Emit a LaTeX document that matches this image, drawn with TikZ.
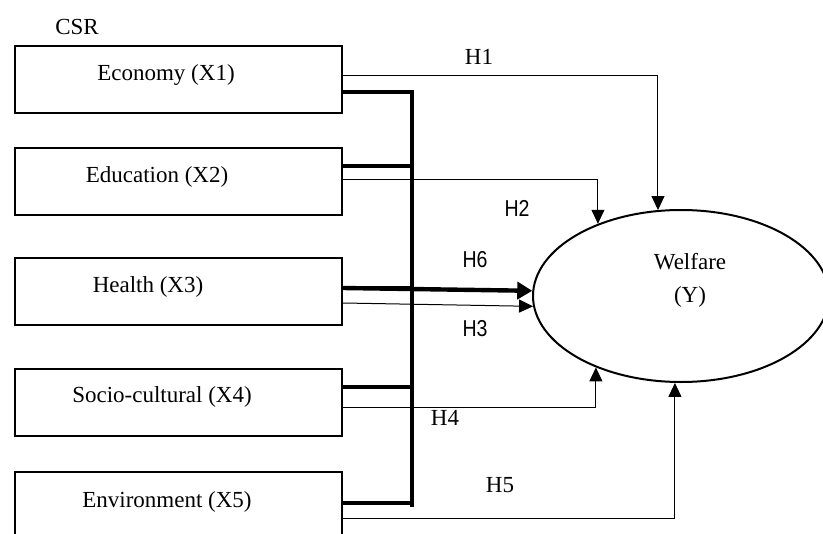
\documentclass[tikz,border=0pt]{standalone}
\usepackage{fontspec}
\setmainfont{Liberation Serif}
\newfontfamily\hsans[FakeStretch=0.85]{Liberation Sans}
\usepackage{tikz}
\usetikzlibrary{shapes.geometric,arrows.meta,calc}

\tikzset{
    box/.style={draw, line width=1pt, minimum width=163.5pt, minimum height=33.5pt, inner sep=0pt},
    bus/.style={line width=2.2pt},
    hyp/.style={line width=0.5pt, -{Triangle[length=7pt,width=6.5pt]}},
    hsanslab/.style={font=\hsans\fontsize{11.5}{13.5}\selectfont},
}

\begin{document}
\begin{tikzpicture}[x=0.5pt,y=-0.5pt,font=\fontsize{11.5}{13.5}\selectfont]
    \useasboundingbox (0,0) rectangle (823,534);
    % Draw boxes
    \foreach \name/\y in {econ/79.5,educ/181.5,health/291,socio/402.5,envir/505.5} {
        \node[box] (\name) at (178.5,\y) {};
    }
    \foreach \name/\x/\y/\txt in {econ/166/75/Economy (X1),educ/157/177/Education (X2),health/148/287/Health (X3),socio/162/397/Socio-cultural (X4),envir/167/502/Environment (X5)} {
        \node (t\name) at (\x,\y) {\txt};
    }
    \node (csr) at (77,27) {CSR};
    % Welfare
    \node[draw, ellipse, line width=1pt, minimum width=148pt, minimum height=86pt, inner sep=0pt] (welfare) at (681,296) {};
    \node[align=center, font=\fontsize{11.5}{16.5}\selectfont] (wtext) at (690,280) {Welfare\\(Y)};
    % Thick bus
    \coordinate (bustop) at (412,92);
    \coordinate (busbot) at (412,507);
    \draw[bus] ($(econ.east)+(0,12.5)$) -- (bustop) -- (busbot);
    \foreach \name/\dy in {educ/-15.5,health/-3,socio/-15.5,envir/-2.5} {
        \draw[bus] ($(\name.east)+(0,\dy)$) coordinate (b) -- (b -| bustop);
    }
    \draw[bus, -{Triangle[length=7.5pt,width=8.5pt]}] ($(health.east)+(0,-3)$) -- (welfare.178);
    % Hypotheses
    \draw[hyp] ($(econ.east)+(0,-3.5)$) -| (welfare.105);
    \draw[hyp] ($(educ.east)+(0,-1.5)$) -| (welfare.139);
    \draw[hyp] ($(health.east)+(0,12)$) -- (welfare.184);
    \draw[hyp] ($(socio.east)+(0,4.5)$) -| (welfare.220);
    \draw[hyp] ($(envir.east)+(0,12.5)$) -| (welfare.266);
    % Labels
    \node (h1) at (479,57) {H1};
    \node[hsanslab] (h2) at (517,208) {H2};
    \node[hsanslab] (h6) at (475,260) {H6};
    \node[hsanslab] (h3) at (475,329) {H3};
    \node (h4) at (445,418) {H4};
    \node (h5) at (500,485) {H5};
\end{tikzpicture}
\end{document}
